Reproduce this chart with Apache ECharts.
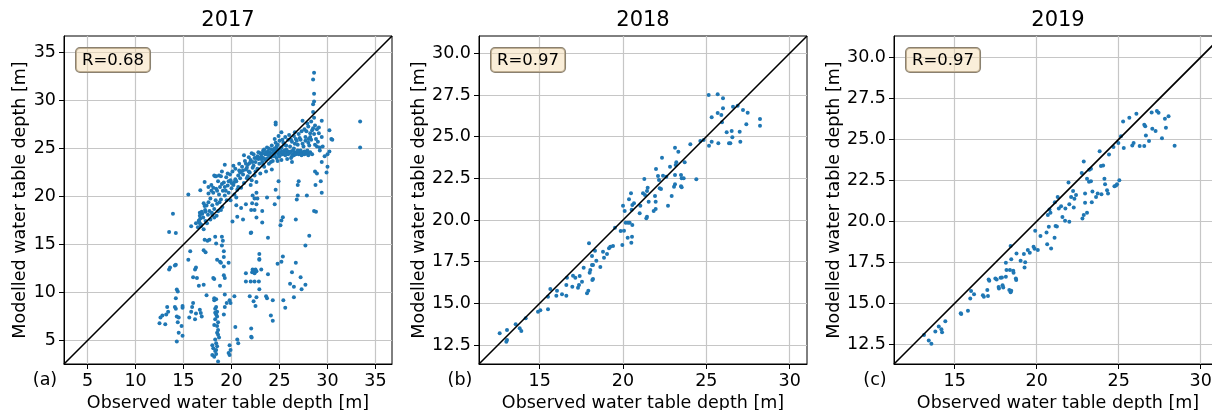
<!DOCTYPE html>
<html>
<head>
<meta charset="utf-8">
<script src="https://cdn.jsdelivr.net/npm/echarts@6/dist/echarts.min.js"></script>
<style>
  html, body { margin: 0; background: #fff; }
  #chart { width: 1212px; height: 410px; }
</style>
</head>
<body>
<div id="chart"></div>
<script>
// observed vs modelled water table depth, one list of [obs, mod] per year
const points2017 = [
  // dense band along the 1:1 line
  [16.3,17.2],[16.5,16.8],[16.6,17.5],[16.75,17.7],[16.8,16.9],[16.95,18.2],[17.05,17.8],[17.1,16.6],[17.25,18.6],[17.3,17.45],[17.4,19.05],[17.55,18.1],[17.6,19.4],[17.7,18.5],[17.45,17.2],
  [17.8,19.8],[17.95,18.3],[18.0,19.1],[18.1,20.4],[18.2,18.7],[18.35,19.6],[18.4,20.8],[18.5,19.25],[18.6,18.45],[18.7,20.2],[18.8,21.0],[18.9,19.7],[19.05,18.9],[18.2,17.8],[17.9,20.6],[18.6,21.6],[18.3,22.1],[19.1,20.6],[17.8,17.6],[18.0,18.1],[18.45,18.0],[18.9,18.6],[17.6,20.3],[18.75,19.4],[19.0,21.3],
  [17.2,21.5],[17.6,21.0],[18.2,22.2],[18.4,22.1],[18.7,22.2],[18.9,22.1],[19.3,23.3],[17.9,21.2],[18.1,20.9],[18.5,20.6],[19.0,22.6],[16.75,20.65],
  [19.2,21.45],[19.3,20.1],[19.45,22.0],[19.5,19.6],[19.6,21.15],[19.7,20.4],[19.85,22.3],[19.9,21.7],[20.0,20.85],[20.1,22.6],[20.2,21.2],[20.3,20.2],[20.4,22.9],[20.5,21.6],[20.6,20.7],[20.7,22.2],[20.8,23.4],[20.9,21.9],[21.0,20.9],[19.4,20.6],[20.2,23.2],[19.9,19.6],[20.5,19.9],[21.0,22.6],[20.7,21.0],[19.6,22.4],[20.3,21.5],[20.8,22.7],
  [20.9,22.5],[20.4,21.8],[20.0,21.4],[19.7,21.6],[19.3,21.0],
  [21.1,23.1],[21.2,22.3],[21.3,21.4],[21.4,23.7],[21.5,22.8],[21.6,21.9],[21.7,23.3],[21.8,24.1],[21.9,22.5],[22.0,23.8],[22.1,21.7],[22.2,23.0],[22.3,24.4],[22.4,22.2],[22.5,23.6],[22.6,24.0],[22.7,22.9],[22.8,24.6],[22.9,23.4],[23.0,22.4],[21.3,24.3],[22.0,21.2],[22.6,21.5],[21.8,22.6],[22.3,23.2],[21.5,23.4],[22.1,24.5],[22.8,23.9],
  [21.2,22.7],[21.6,23.0],[21.9,23.5],[22.2,23.6],[22.4,24.0],[22.7,24.2],[22.9,24.0],[23.0,24.5],[22.5,22.6],[21.7,22.1],
  [23.1,24.2],[23.2,23.6],[23.3,24.8],[23.4,23.1],[23.5,24.4],[23.6,23.9],[23.7,25.1],[23.8,24.0],[23.9,23.4],[24.0,24.6],[24.1,24.1],[24.2,25.3],[24.3,23.7],[24.4,24.8],[24.5,24.3],[24.6,25.6],[24.7,24.0],[24.8,24.9],[24.9,24.4],[25.0,25.8],[23.2,24.5],[23.5,23.8],[23.8,24.7],[24.1,23.6],[24.4,24.2],[24.6,24.6],[24.8,23.7],[23.4,24.9],[23.9,25.0],[24.3,24.5],[24.7,25.2],[24.2,22.8],[23.6,22.6],[25.0,24.2],[24.5,26.0],[24.9,26.3],[23.3,23.3],[24.0,24.3],[24.5,24.7],[23.7,24.4],
  [23.3,24.0],[23.6,24.6],[23.9,24.4],[24.2,24.9],[24.5,25.0],[24.8,25.4],[23.1,23.9],
  [25.1,24.6],[25.2,25.1],[25.3,24.4],[25.4,25.6],[25.5,24.8],[25.6,24.3],[25.7,25.3],[25.8,24.6],[25.9,25.9],[26.0,24.5],[26.1,25.2],[26.2,24.7],[26.3,25.7],[26.4,24.4],[26.5,25.0],[26.6,24.6],[26.7,26.0],[26.8,24.5],[26.9,25.4],[27.0,24.7],[27.1,24.5],[27.2,25.9],[27.3,24.6],[27.4,24.4],[27.5,25.2],[27.6,24.6],[27.7,26.2],[27.8,24.5],[27.9,24.8],[28.0,25.6],[25.3,25.9],[25.6,26.2],[25.2,23.8],[25.8,23.9],[26.3,23.6],[26.0,26.4],[26.6,25.5],[27.0,26.5],[25.5,25.4],[26.2,24.0],[25.4,24.5],[25.9,24.7],[26.5,24.3],[27.2,24.8],[27.6,24.4],
  [25.0,24.6],[25.3,24.7],[25.6,24.5],[25.9,24.4],[26.1,24.6],[26.4,24.8],[26.7,24.4],[27.0,24.4],[27.3,24.3],[27.6,24.7],[27.9,24.5],[28.2,24.6],[28.4,24.4],[28.0,24.3],[26.9,24.8],[26.3,24.2],[25.7,24.9],[25.1,25.0],
  [26.2,25.9],[26.5,26.3],[26.8,25.8],[27.1,26.1],[27.4,25.5],[27.7,25.8],[28.0,26.0],[28.1,25.3],[27.3,26.8],[26.6,26.7],[27.9,27.6],[28.3,27.8],[28.7,27.4],[29.1,27.2],[28.9,25.2],[29.2,24.8],
  [27.4,27.9],[27.8,26.8],[28.0,27.3],[28.2,26.2],[28.3,25.9],[28.4,26.9],[28.5,27.1],[28.6,26.5],[28.6,28.2],[28.7,25.4],[28.8,26.0],[28.9,27.0],[29.0,25.7],[29.1,26.6],[29.2,25.1],[29.4,26.2],[29.4,27.9],[29.5,25.2],[29.7,24.2],[30.2,26.9],[30.4,26.0],[30.5,25.9],[28.2,26.6],[27.6,27.0],
  [28.5,28.8],[28.5,29.6],[28.6,29.9],[28.6,30.7],[28.5,32.2],[28.6,32.9],[24.6,27.7],[24.6,27.5],[25.2,26.7],[33.4,27.8],[33.4,25.1],
  // scattered points below the line
  [15.5,20.2],[13.9,18.2],[13.5,16.3],[14.2,16.2],[15.8,16.9],
  [16.7,18.3],[16.7,18.0],[16.6,17.4],[16.7,17.2],[16.85,17.05],[17.1,19.3],[17.2,19.0],[16.9,18.4],[17.3,18.4],
  [15.7,14.3],[15.5,13.4],[17.2,15.5],[17.1,14.4],[17.3,14.2],[17.5,15.4],[17.7,15.5],
  [18.3,15.8],[18.4,15.1],[19.0,15.8],[19.1,15.4],[19.0,14.9],
  [18.5,13.4],[18.8,13.2],[18.9,13.1],[19.2,14.3],[19.2,13.7],[19.2,11.8],[19.3,11.5],[19.2,12.7],[19.7,13.1],
  [18.1,11.5],[18.2,11.4],[18.8,10.7],[17.4,9.7],[18.2,9.4],[18.2,9.2],[18.4,9.3],
  [18.4,8.5],[18.3,8.3],[18.5,8.0],[18.4,7.7],[18.5,7.5],[18.3,7.2],[18.6,6.9],[18.5,6.5],[18.6,6.1],[18.5,5.8],[18.6,5.6],[18.3,5.1],[18.4,4.7],[18.5,4.4],[18.4,4.0],[18.3,3.9],[18.0,4.5],[18.1,4.2],[18.0,3.5],[18.4,3.6],[18.6,2.8],[18.2,3.3],[18.3,7.9],[18.2,6.6],[18.7,5.3],
  [16.0,8.9],[15.9,8.5],[16.7,8.2],[16.8,7.85],[16.9,7.5],[16.3,7.8],[16.2,7.2],[15.6,7.4],[15.8,8.0],
  [14.2,9.4],[14.3,10.3],[14.4,10.1],[14.1,8.5],[14.2,8.3],[14.9,8.6],[14.9,8.4],
  [13.3,8.5],[13.4,8.0],[13.2,7.7],[12.8,7.6],[12.6,7.4],[12.5,6.8],[13.1,6.7],
  [14.3,7.5],[14.5,7.4],[14.4,6.9],[14.8,6.5],[14.5,5.8],[14.9,5.5],[14.3,4.9],
  [16.2,12.4],[16.3,12.6],[16.0,11.6],[16.4,11.5],[16.6,10.7],[17.1,10.8],
  [13.5,12.4],[13.6,12.6],[14.2,12.9],[14.1,12.8],
  [19.8,9.2],[19.9,8.9],[20.4,6.4],[20.6,5.1],[20.7,4.7],[19.8,4.5],[19.7,3.7],[19.9,4.0],[19.8,3.5],
  [19.3,9.8],[19.3,8.5],[19.5,8.9],[19.2,7.7],
  [20.5,19.1],[21.0,18.8],[21.5,19.2],[22.05,18.6],[20.6,17.9],[21.2,17.6],[20.1,17.4],[22.0,16.2],
  [22.9,13.4],[22.2,12.4],[22.5,12.4],[22.15,12.1],[22.4,12.0],[22.6,12.2],[23.1,12.4],[22.3,12.2],
  [21.5,12.0],[21.5,11.15],[22.0,11.15],[22.4,11.15],[22.85,11.15],[22.9,10.35],[21.9,9.6],[20.3,9.6],
  [22.6,9.5],[22.3,9.1],[22.5,8.6],[23.6,9.6],[23.7,9.4],[24.3,9.2],[25.4,9.2],[25.6,8.4],[26.5,9.5],
  [24.1,7.6],[24.3,7.05],[22.05,6.25],[22.05,5.4],[22.1,5.3],
  [24.9,21.6],[27.0,21.6],[26.9,21.2],[28.75,21.2],[29.4,20.4],[24.6,20.7],[22.6,20.4],[22.2,20.1],[22.7,19.8],[22.4,19.8],[23.7,19.9],[24.9,19.9],[26.9,20.1],[26.8,19.7],[27.85,20.1],
  [22.15,19.3],[22.6,19.2],[24.5,19.2],[22.4,18.6],[23.2,18.5],[22.6,17.8],[23.2,17.3],[25.35,17.85],[25.2,17.5],[25.1,17.0],[26.7,17.6],[28.8,18.4],
  [22.05,16.25],[23.8,15.7],[28.1,15.9],[27.7,14.9],[22.9,14.0],[22.9,13.5],[25.35,13.75],[25.2,13.2],[24.8,13.0],[26.7,13.1],[23.8,11.9],[26.3,12.1],[27.2,11.6],[26.1,10.9],[26.5,10.6],[27.7,10.8],[27.3,10.35],
  [28.7,22.6],[28.9,22.4],[29.3,21.6],[29.9,22.5],[30.0,23.1],[30.0,24.4],[30.2,24.7],[28.6,18.5],[29.4,23.6]
];

const points2018 = [
  [12.6,13.2],[13.04,13.4],[13.04,12.8],[13.0,12.7],[13.56,13.74],[13.8,13.5],[13.9,13.34],[14.16,14.1],[14.9,14.5],[15.04,14.58],[15.5,14.64],[15.5,15.4],[15.64,15.86],[16.0,15.46],[16.04,15.76],[16.34,15.54],[16.6,15.46],[16.6,16.1],[16.64,16.54],[16.96,16.0],
  [17.0,16.66],[17.14,16.54],[17.3,15.94],[17.36,16.1],[17.4,16.64],[17.54,16.3],[17.64,17.14],[17.84,15.6],[17.92,15.76],[17.96,18.6],[18.0,16.84],[18.04,17.0],[18.14,17.3],[18.2,17.3],[18.14,17.84],[18.2,16.46],[18.16,16.4],[18.32,18.16],[18.4,17.56],[18.64,17.18],
  [18.86,17.74],[18.8,18.1],[19.04,17.96],[19.16,18.3],[19.24,18.4],[19.4,18.44],[19.52,19.54],[19.86,19.34],[20.06,19.36],[19.96,18.5],[20.0,20.86],[20.1,20.54],[20.16,19.84],[20.3,19.84],[20.4,19.84],[20.56,19.7],[20.28,18.94],[20.54,19.0],[20.5,18.64],[20.36,21.24],
  [20.48,21.6],[20.56,20.9],[20.66,21.0],[20.52,20.62],[21.0,20.4],[21.04,20.86],[21.2,21.6],[21.32,21.5],[21.44,21.74],[21.48,21.94],[21.28,22.46],[21.54,21.1],[21.4,20.1],[21.44,20.2],[21.84,20.54],[21.96,20.66],[21.96,21.1],[21.92,21.44],[21.98,23.06],[22.1,22.64],
  [22.16,22.4],[22.2,21.9],[22.28,21.86],[22.34,23.74],[22.4,22.66],[22.6,22.6],[22.7,20.86],[22.92,21.44],[22.82,23.2],[23.06,22.0],[23.12,22.14],[23.12,22.7],[23.12,24.34],[23.32,24.1],[23.16,23.3],[23.2,23.46],[23.48,22.7],[23.52,22.5],[23.48,22.02],[23.52,21.96],
  [23.64,22.5],[23.7,23.46],[24.04,24.54],[24.4,22.44],[24.64,24.74],[24.84,24.8],[25.14,27.5],[25.16,24.46],[25.32,24.7],[25.32,26.16],[25.68,27.54],[26.0,27.3],[25.68,26.42],[25.9,26.3],[26.0,26.7],[25.94,25.86],[25.72,24.6],[26.22,25.26],[26.52,25.34],[26.36,24.6],
  [26.44,24.6],[26.56,24.96],[26.6,26.8],[26.88,26.86],[27.0,25.3],[27.04,24.7],[27.2,26.6],[27.48,26.44],[27.4,25.74],[28.22,26.06],[28.22,25.66]
];

const points2019 = [
  [13.13,13.07],[13.42,12.73],[13.58,12.53],[13.82,13.28],[14.03,13.58],[14.19,13.42],[14.23,13.24],[14.43,13.9],[15.37,14.39],[15.4,14.35],[15.81,14.55],[15.95,15.3],[16.18,15.55],[16.0,15.75],[16.72,15.49],[16.78,15.4],[17.03,15.45],[16.99,15.81],[17.07,16.46],[17.11,16.38],
  [17.48,16.52],[17.56,16.46],[17.68,16.0],[17.7,15.9],[17.92,16.1],[17.96,15.97],[17.8,16.56],[17.88,16.58],[18.12,16.62],[18.16,17.03],[18.12,17.47],[18.33,15.81],[18.41,15.67],[18.45,15.77],[18.37,17.03],[18.57,16.99],[18.59,16.87],[18.41,18.49],[18.45,17.68],[18.73,16.52],
  [18.75,16.42],[18.77,18.04],[19.26,17.19],[19.02,17.6],[19.22,18.0],[19.3,17.51],[19.46,18.25],[19.58,18.08],[19.81,18.45],[19.87,18.33],[20.07,18.25],[19.91,19.42],[20.23,19.1],[20.64,18.6],[20.88,18.35],[20.6,19.32],[20.74,19.67],[21.09,19.0],[21.15,19.71],[21.23,19.69],
  [20.68,20.38],[20.84,20.52],[20.78,20.72],[21.11,21.17],[21.28,21.49],[21.35,20.78],[21.49,20.92],[21.75,20.78],[21.57,20.27],[21.73,20.03],[21.99,19.97],[21.94,22.36],[21.99,21.04],[22.1,21.49],[22.22,21.85],[22.3,21.37],[22.4,21.61],[22.26,20.84],[22.75,22.95],[22.87,23.64],
  [22.79,20.17],[22.87,20.38],[22.95,21.69],[22.95,21.13],[23.07,22.6],[23.19,22.42],[23.31,22.44],[23.07,20.52],[23.21,23.15],[23.31,23.2],[23.4,21.82],[23.36,21.17],[23.62,21.49],[23.72,21.69],[23.84,24.27],[23.92,23.38],[24.05,23.4],[24.13,22.59],[24.17,22.26],[24.29,21.9],
  [24.35,21.69],[23.95,21.65],[24.41,24.07],[24.68,24.53],[24.74,22.14],[24.84,22.18],[24.9,22.26],[25.04,22.5],[24.98,24.78],[25.14,25.18],[25.31,24.47],[25.27,26.08],[25.65,26.32],[25.83,24.63],[25.91,24.78],[26.08,26.56],[26.28,24.59],[26.56,24.59],[26.56,25.89],[26.62,25.79],
  [26.66,25.24],[26.85,24.9],[27.01,26.64],[27.33,26.72],[27.43,26.62],[27.05,25.65],[27.25,25.51],[27.64,25.06],[27.88,25.71],[27.82,26.26],[28.04,26.4],[28.41,24.61]
];

const years = ['2017', '2018', '2019'];
const panelTags = ['(a)', '(b)', '(c)'];
const rValues = ['R=0.68', 'R=0.97', 'R=0.97'];

// axis limits (same on x and y, so the 1:1 line runs corner to corner)
const range2017 = [2.55, 36.72];
const range2018 = [11.36, 31.04];
const range2019 = [11.3, 31.3];

const ticks2017 = [5, 10, 15, 20, 25, 30, 35];
const xTicksLate = [15, 20, 25, 30];
const yTicksLate = [12.5, 15, 17.5, 20, 22.5, 25, 27.5, 30];

const FONT = 'DejaVu Sans';
const gridLeft = [64, 479, 894];
const yNameGap = [33, 49, 50];

const panels = [
  { pts: points2017, range: range2017, xt: ticks2017, yt: ticks2017, yfmt: v => String(v) },
  { pts: points2018, range: range2018, xt: xTicksLate, yt: yTicksLate, yfmt: v => v.toFixed(1) },
  { pts: points2019, range: range2019, xt: xTicksLate, yt: yTicksLate, yfmt: v => v.toFixed(1) }
];

function axis(i, range, ticks, fmt, name, gap) {
  return {
    gridIndex: i,
    type: 'value',
    min: range[0],
    max: range[1],
    name: name,
    nameLocation: 'middle',
    nameGap: gap,
    nameTextStyle: { fontFamily: FONT, fontSize: 17.5, color: '#000' },
    axisLine: { show: true, onZero: false, lineStyle: { color: '#000', width: 1 } },
    axisTick: { show: true, inside: false, length: 5, customValues: ticks, lineStyle: { color: '#000', width: 1 } },
    axisLabel: { customValues: ticks, formatter: fmt, fontFamily: FONT, fontSize: 17.5, color: '#000', margin: 8 },
    splitLine: { show: true, lineStyle: { color: '#c6c6c6', width: 1.2 } }
  };
}

const chart = echarts.init(document.getElementById('chart'), null, { renderer: 'canvas' });

const grids = [], xAxes = [], yAxes = [], series = [], graphics = [];
panels.forEach((p, i) => {
  grids.push({
    left: gridLeft[i], top: 36, width: 328, height: 328,
    outerBoundsMode: 'none', containLabel: false,
    show: true, borderColor: '#000', borderWidth: 1, backgroundColor: '#fff'
  });
  xAxes.push(axis(i, p.range, p.xt, v => String(v), 'Observed water table depth [m]', 29));
  yAxes.push(axis(i, p.range, p.yt, p.yfmt, 'Modelled water table depth [m]', yNameGap[i]));
  series.push({
    type: 'scatter', xAxisIndex: i, yAxisIndex: i,
    data: p.pts, symbolSize: 4,
    itemStyle: { color: '#1f77b4', opacity: 1 },
    silent: true, z: 2
  });
  series.push({
    type: 'line', xAxisIndex: i, yAxisIndex: i,
    data: [[p.range[0], p.range[0]], [p.range[1], p.range[1]]],
    symbol: 'none', lineStyle: { color: '#000', width: 1.6 },
    silent: true, z: 3
  });
  const cx = gridLeft[i] + 164;
  graphics.push({
    type: 'text', x: cx, y: 21,
    style: { text: years[i], font: '21px "' + FONT + '"', fill: '#000', align: 'center', verticalAlign: 'middle' }
  });
  graphics.push({
    type: 'text', x: gridLeft[i] - 19, y: 380,
    style: { text: panelTags[i], font: '17.5px "' + FONT + '"', fill: '#000', align: 'center', verticalAlign: 'middle' }
  });
  graphics.push({
    type: 'text', x: gridLeft[i] + 12, y: 48, z: 10,
    style: {
      text: rValues[i], font: '16.5px "' + FONT + '"', fill: '#000', align: 'left', verticalAlign: 'top',
      backgroundColor: 'rgba(245,222,179,0.5)', borderColor: '#8a8070', borderWidth: 1, borderRadius: 4,
      padding: [4, 6, 3, 6]
    }
  });
});

chart.setOption({
  animation: false,
  backgroundColor: '#fff',
  grid: grids,
  xAxis: xAxes,
  yAxis: yAxes,
  series: series,
  graphic: graphics
});
</script>
</body>
</html>
